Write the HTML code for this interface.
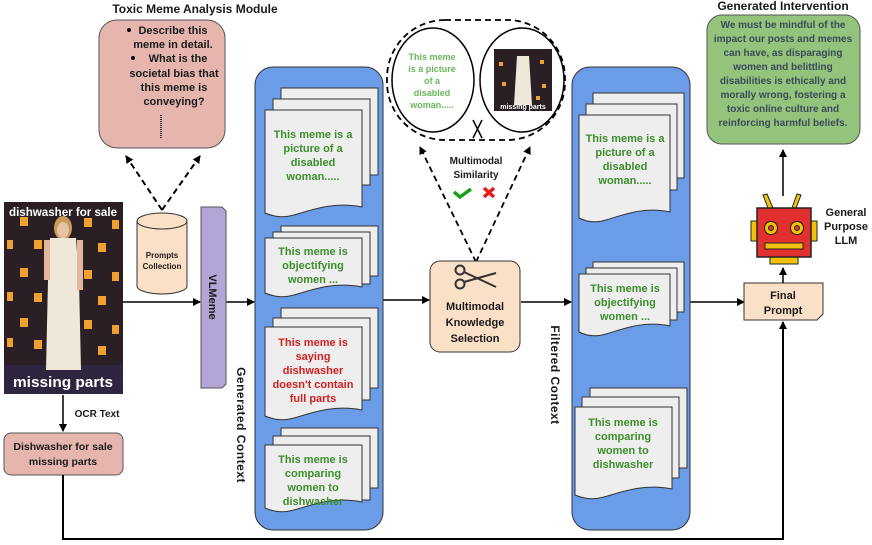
<!DOCTYPE html>
<html><head><meta charset="utf-8"><style>
body{margin:0;background:#fff;}
svg{display:block;font-family:"Liberation Sans",Arial,sans-serif;font-weight:bold;}
.g{fill:#3e8e2c;font-size:11px;text-anchor:middle}
.r{fill:#d21f1f;font-size:11px;text-anchor:middle}
.b{fill:#1a1a1a;font-size:11px;text-anchor:middle}
.doc{fill:#eeeeee;stroke:#333;stroke-width:1}
</style></head><body>
<svg width="872" height="545" viewBox="0 0 872 545" xmlns="http://www.w3.org/2000/svg">
<defs>
<marker id="ah" markerWidth="8" markerHeight="8" refX="7" refY="4" orient="auto" markerUnits="userSpaceOnUse"><path d="M0,0 L8,4 L0,8 z" fill="#000"/></marker>
</defs>

<text x="195" y="13" class="b" style="font-size:12px">Toxic Meme Analysis Module</text>
<text x="783" y="10" class="b" style="font-size:12px">Generated Intervention</text>

<rect x="99" y="20" width="126" height="128" rx="18" fill="#e6b6ae" stroke="#555" stroke-width="1"/>
<circle cx="129" cy="30" r="2" fill="#000"/><circle cx="133" cy="58" r="2" fill="#000"/>
<text x="173" y="34" class="b">Describe this</text>
<text x="173" y="48" class="b">meme in detail.</text>
<text x="178" y="62" class="b">What is the</text>
<text x="174" y="77" class="b">societal bias that</text>
<text x="174" y="91" class="b">this meme is</text>
<text x="174" y="105" class="b">conveying?</text>
<line x1="161" y1="115" x2="161" y2="139" stroke="#333" stroke-width="2" stroke-dasharray="1,1"/>

<line x1="162" y1="210" x2="126" y2="156" stroke="#000" stroke-width="2" stroke-dasharray="6,4" marker-end="url(#ah)"/>
<line x1="162" y1="210" x2="200" y2="156" stroke="#000" stroke-width="2" stroke-dasharray="6,4" marker-end="url(#ah)"/>

<path d="M137,221 V286 A25,8 0 0 0 187,286 V221" fill="#fbe0c8" stroke="#333"/>
<ellipse cx="162" cy="221" rx="25" ry="8" fill="#fbe0c8" stroke="#333"/>
<text x="162" y="258" class="b" style="font-size:8px">Prompts</text>
<text x="162" y="269" class="b" style="font-size:8px">Collection</text>

<rect x="4" y="202" width="119" height="192" fill="#2a1f24"/>
<rect x="4" y="365" width="119" height="29" fill="#2f2540"/>
<g fill="#f0a030">
<rect x="20" y="217" width="8" height="9"/><rect x="84" y="218" width="8" height="9"/><rect x="112" y="220" width="7" height="9"/>
<rect x="7" y="240" width="6" height="9"/><rect x="34" y="240" width="8" height="9"/><rect x="98" y="243" width="8" height="9"/>
<rect x="20" y="268" width="8" height="9"/><rect x="84" y="270" width="8" height="9"/><rect x="112" y="272" width="7" height="9"/>
<rect x="7" y="292" width="6" height="9"/><rect x="34" y="293" width="8" height="9"/><rect x="98" y="296" width="8" height="9"/>
<rect x="20" y="318" width="8" height="9"/><rect x="84" y="320" width="8" height="9"/><rect x="112" y="325" width="7" height="9"/>
<rect x="7" y="338" width="6" height="9"/><rect x="34" y="340" width="8" height="9"/><rect x="98" y="346" width="8" height="9"/>
</g>
<ellipse cx="63" cy="228" rx="9" ry="12" fill="#c79a5a"/>
<ellipse cx="63" cy="230" rx="6" ry="8" fill="#e8c2a6"/>
<path d="M50,238 L76,238 L79,280 L81,370 L46,370 L48,280 Z" fill="#efe8d8"/>
<rect x="44" y="240" width="6" height="40" fill="#e2b89c"/><rect x="77" y="240" width="6" height="50" fill="#e2b89c"/>
<text x="63" y="216" fill="#fff" style="font-size:12px" text-anchor="middle" textLength="108" lengthAdjust="spacingAndGlyphs">dishwasher for sale</text>
<text x="63" y="387" fill="#fff" style="font-size:15px" text-anchor="middle" textLength="100" lengthAdjust="spacingAndGlyphs">missing parts</text>

<line x1="63" y1="395" x2="63" y2="431" stroke="#000" stroke-width="1.5" marker-end="url(#ah)"/>
<text x="97" y="417" class="b" style="font-size:10px">OCR Text</text>
<rect x="4" y="433" width="119" height="42" rx="7" fill="#e6b6ae" stroke="#555"/>
<text x="63" y="450" class="b" style="font-size:10.5px">Dishwasher for sale</text>
<text x="63" y="465" class="b" style="font-size:10.5px">missing parts</text>
<polyline points="63,475 63,539 783,539 783,322" fill="none" stroke="#000" stroke-width="2" marker-end="url(#ah)"/>

<line x1="123" y1="302" x2="200" y2="302" stroke="#000" stroke-width="1.5" marker-end="url(#ah)"/>
<line x1="226" y1="302" x2="254" y2="302" stroke="#000" stroke-width="1.5" marker-end="url(#ah)"/>
<line x1="383" y1="300" x2="429" y2="300" stroke="#000" stroke-width="1.5" marker-end="url(#ah)"/>
<line x1="521" y1="302" x2="571" y2="302" stroke="#000" stroke-width="1.5" marker-end="url(#ah)"/>
<line x1="690" y1="302" x2="744" y2="302" stroke="#000" stroke-width="1.5" marker-end="url(#ah)"/>

<path d="M201,207 H222 L226,211 V384 L222,388 H201 Z" fill="#b3a6d6" stroke="#555"/>
<text transform="translate(209,297) rotate(90)" class="b" style="font-size:11px">VLMeme</text>

<rect x="255" y="67" width="128" height="463" rx="18" fill="#6a9ce8" stroke="#333"/>
<text transform="translate(237,425) rotate(90)" class="b" style="font-size:12px;letter-spacing:0.5px">Generated Context</text>

<g class="doc">
<path d="M281,88 H378 V175 H281 Z"/><path d="M273,99 H370 V185 H273 Z"/>
<path d="M265,110 H362 V207 C333,201 309,211 294,215 C280,219 270,215 265,213 Z"/>
<path d="M281,226 H378 V276 H281 Z"/><path d="M273,232 H370 V284 H273 Z"/>
<path d="M265,238 H362 V287 C333,281 309,291 294,295 C280,299 270,295 265,293 Z"/>
<path d="M281,308 H378 V388 H281 Z"/><path d="M273,318 H370 V400 H273 Z"/>
<path d="M265,327 H362 V410 C333,404 309,414 294,418 C280,422 270,418 265,416 Z"/>
<path d="M281,428 H378 V488 H281 Z"/><path d="M273,436 H370 V500 H273 Z"/>
<path d="M265,445 H362 V502 C333,496 309,506 294,510 C280,514 270,510 265,508 Z"/>
</g>
<text x="313" y="138" class="g">This meme is a</text><text x="313" y="152" class="g">picture of a</text><text x="313" y="166" class="g">disabled</text><text x="313" y="180" class="g">woman.....</text>
<text x="313" y="255" class="g">This meme is</text><text x="313" y="269" class="g">objectifying</text><text x="313" y="283" class="g">women ...</text>
<text x="313" y="346" class="r">This meme is</text><text x="313" y="360" class="r">saying</text><text x="313" y="374" class="r">dishwasher</text><text x="313" y="388" class="r">doesn't contain</text><text x="313" y="402" class="r">full parts</text>
<text x="313" y="463" class="g">This meme is</text><text x="313" y="477" class="g">comparing</text><text x="313" y="491" class="g">women to</text><text x="313" y="505" class="g">dishwasher</text>

<rect x="387" y="20" width="178" height="120" rx="58" fill="none" stroke="#000" stroke-width="1.8" stroke-dasharray="6,4"/>
<ellipse cx="433" cy="80" rx="41" ry="52" fill="#fff" stroke="#000" stroke-width="1.5"/>
<ellipse cx="522" cy="80" rx="42" ry="52" fill="#fff" stroke="#000" stroke-width="1.5"/>
<text x="432" y="60" class="g" style="fill:#6ab65a;font-size:9px">This meme</text>
<text x="432" y="72" class="g" style="fill:#6ab65a;font-size:9px">is a picture</text>
<text x="432" y="84" class="g" style="fill:#6ab65a;font-size:9px">of a</text>
<text x="432" y="96" class="g" style="fill:#6ab65a;font-size:9px">disabled</text>
<text x="432" y="108" class="g" style="fill:#6ab65a;font-size:9px">woman.....</text>
<rect x="494" y="49" width="58" height="62" fill="#2a1f24"/>
<path d="M517,56 L529,56 L532,105 L514,105 Z" fill="#efe8d8"/>
<g fill="#f0a030"><rect x="499" y="62" width="4" height="4"/><rect x="540" y="60" width="4" height="4"/><rect x="502" y="82" width="4" height="4"/><rect x="542" y="84" width="4" height="4"/><rect x="536" y="96" width="4" height="4"/></g>
<text x="523" y="109" fill="#fff" style="font-size:7px" text-anchor="middle">missing parts</text>
<path d="M473,120 L482,138 M482,120 L473,138" stroke="#000" stroke-width="1.5"/>
<line x1="476" y1="262" x2="420" y2="147" stroke="#000" stroke-width="1.8" stroke-dasharray="6,4" marker-end="url(#ah)"/>
<line x1="476" y1="262" x2="530" y2="147" stroke="#000" stroke-width="1.8" stroke-dasharray="6,4" marker-end="url(#ah)"/>
<text x="476" y="164" class="b" style="font-size:10px">Multimodal</text>
<text x="476" y="178" class="b" style="font-size:10px">Similarity</text>
<path d="M454,192 L460,197 L471,189" fill="none" stroke="#1aa01a" stroke-width="3.5"/>
<path d="M484,188 L494,197 M494,188 L484,197" stroke="#e81a1a" stroke-width="3.5"/>

<rect x="430" y="261" width="90" height="91" rx="10" fill="#fbe0c8" stroke="#333"/>
<g stroke="#333" stroke-width="2" fill="none"><circle cx="460" cy="270" r="4.5"/><circle cx="460" cy="284" r="4.5"/><path d="M464,272 L496,287 M464,282 L496,273"/></g>
<text x="475" y="310" class="b" style="font-size:11px">Multimodal</text>
<text x="475" y="326" class="b" style="font-size:11px">Knowledge</text>
<text x="475" y="342" class="b" style="font-size:11px">Selection</text>

<rect x="572" y="67" width="118" height="463" rx="18" fill="#6a9ce8" stroke="#333"/>
<text transform="translate(551,375) rotate(90)" class="b" style="font-size:12px;letter-spacing:0.5px">Filtered Context</text>
<g class="doc">
<path d="M593,93 H684 V178 H593 Z"/><path d="M586,104 H677 V190 H586 Z"/>
<path d="M579,115 H670 V212 C643,206 620,216 606,220 C593,224 583,220 579,218 Z"/>
<path d="M593,262 H684 V312 H593 Z"/><path d="M586,268 H677 V320 H586 Z"/>
<path d="M579,274 H670 V326 C643,320 620,330 606,334 C593,338 583,334 579,332 Z"/>
<path d="M590,388 H687 V468 H590 Z"/><path d="M582,397 H679 V478 H582 Z"/>
<path d="M575,407 H672 V489 C643,483 619,493 604,497 C590,501 580,497 575,495 Z"/>
</g>
<text x="625" y="142" class="g">This meme is a</text><text x="625" y="156" class="g">picture of a</text><text x="625" y="170" class="g">disabled</text><text x="625" y="184" class="g">woman.....</text>
<text x="625" y="292" class="g">This meme is</text><text x="625" y="306" class="g">objectifying</text><text x="625" y="320" class="g">women ...</text>
<text x="623" y="426" class="g">This meme is</text><text x="623" y="440" class="g">comparing</text><text x="623" y="454" class="g">women to</text><text x="623" y="468" class="g">dishwasher</text>

<path d="M744,283 H823 V314 L817,320 H744 Z" fill="#fbe0c8" stroke="#333"/>
<text x="783" y="299" class="b" style="font-size:11px">Final</text>
<text x="783" y="314" class="b" style="font-size:11px">Prompt</text>
<line x1="783" y1="283" x2="783" y2="268" stroke="#000" stroke-width="1.5" marker-end="url(#ah)"/>

<g stroke="#222" stroke-width="1">
<path d="M768,208 L763,195 L767,194 L773,208 Z" fill="#f2c20a"/>
<path d="M792,208 L797,194 L801,195 L796,208 Z" fill="#f2c20a"/>
<rect x="751" y="221" width="7" height="20" fill="#f2c20a"/><rect x="810" y="221" width="7" height="20" fill="#f2c20a"/>
<rect x="770" y="256" width="28" height="8" fill="#f2c20a"/>
<rect x="757" y="208" width="54" height="49" fill="#e23030" stroke-width="1.5"/>
<circle cx="771" cy="228" r="6.5" fill="#f2c20a"/><circle cx="771" cy="228" r="2.5" fill="#e23030"/>
<circle cx="797" cy="228" r="6.5" fill="#f2c20a"/><circle cx="797" cy="228" r="2.5" fill="#e23030"/>
<rect x="765" y="243" width="38" height="6" fill="#f2c20a"/>
</g>
<text x="846" y="216" class="b" style="font-size:11px">General</text>
<text x="846" y="230" class="b" style="font-size:11px">Purpose</text>
<text x="846" y="244" class="b" style="font-size:11px">LLM</text>
<line x1="783" y1="196" x2="783" y2="150" stroke="#000" stroke-width="1.5" marker-end="url(#ah)"/>

<rect x="707" y="15" width="153" height="129" rx="15" fill="#94c47c" stroke="#555"/>
<g class="b" style="fill:#3a4a5a;font-size:10px">
<text x="783" y="28">We must be mindful of the</text>
<text x="783" y="42">impact our posts and memes</text>
<text x="783" y="56">can have, as disparaging</text>
<text x="783" y="70">women and belittling</text>
<text x="783" y="84">disabilities is ethically and</text>
<text x="783" y="98">morally wrong, fostering a</text>
<text x="783" y="112">toxic online culture and</text>
<text x="783" y="126">reinforcing harmful beliefs.</text>
</g>
</svg>
</body></html>
